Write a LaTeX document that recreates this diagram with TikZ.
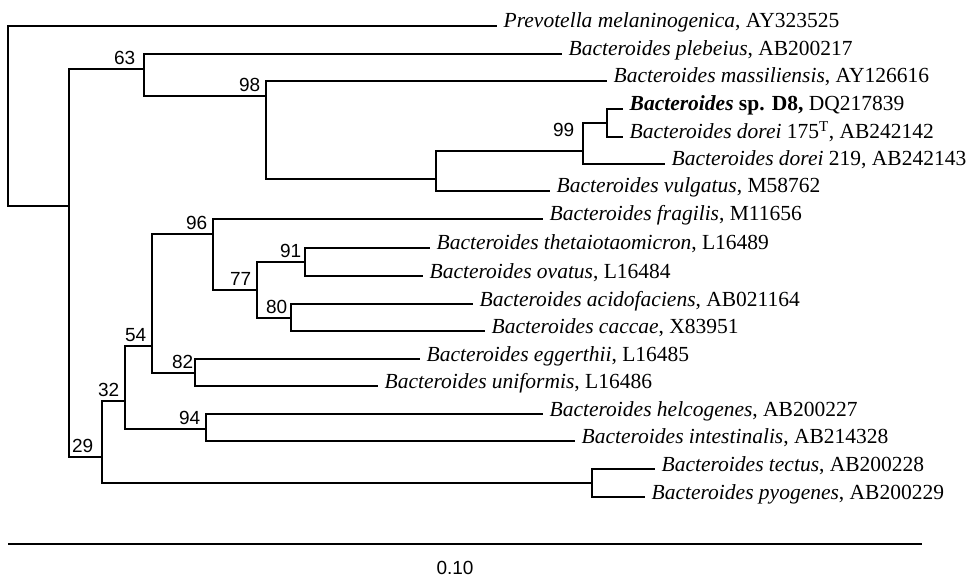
\documentclass[tikz,border=0pt]{standalone}
\usepackage{fontspec}
\setmainfont{Liberation Serif}
\setsansfont{Liberation Sans}

\begin{document}
\begin{tikzpicture}
    [x=1pt, y=-1pt,
    line width=1.4pt,
    taxon/.style={
      anchor=west,
      inner xsep=6pt,
      inner ysep=0pt,
      text height=10pt,
      text depth=6pt,
      font=\fontsize{21.5}{24}\selectfont},
    boot/.style={
      font=\sffamily\fontsize{19}{22}\selectfont,
      inner xsep=5pt,
      inner ysep=4pt}
    ]
    \useasboundingbox (0,0) rectangle (971,577);
    % inner nodes, placed where the parent branch meets them
    \coordinate (root) at (8,116);
    \coordinate (nA) at (69,206);
    \coordinate[label={[boot,inner xsep=8pt]above left:63}] (n63) at (144,69);
    \coordinate[label={[boot]above left:98}] (n98) at (266,96);
    \coordinate (nB) at (436,179);
    \coordinate[label={[boot,inner xsep=8pt,inner ysep=14pt]above left:99}] (n99) at (583,151);
    \coordinate (nC) at (607,123);
    \coordinate[label={[boot,inner xsep=8pt]above left:29}] (n29) at (102,457);
    \coordinate[label={[boot]above left:32}] (n32) at (125,401);
    \coordinate[label={[boot]above left:54}] (n54) at (152,346);
    \coordinate[label={[boot]above left:96}] (n96) at (213,234);
    \coordinate[label={[boot]above left:77}] (n77) at (257,290);
    \coordinate[label={[boot,inner xsep=3pt]above left:91}] (n91) at (305,262);
    \coordinate[label={[boot,inner xsep=3pt]above left:80}] (n80) at (291,318);
    \coordinate[label={[boot,inner xsep=1pt]above left:82}] (n82) at (195,373);
    \coordinate[label={[boot]above left:94}] (n94) at (206,429);
    \coordinate (nD) at (592,483);
    % taxa
    \node (prev) [taxon] at (497,26) {\textit{Prevotella melaninogenica}, AY323525};
    \node (pleb) [taxon] at (562,54) {\textit{Bacteroides plebeius}, AB200217};
    \node (mass) [taxon] at (607,81) {\textit{Bacteroides massiliensis}, AY126616};
    \node (d8) [taxon] at (623,109) {\textbf{\textit{Bacteroides} sp. D8,} DQ217839};
    \node (dor175) [taxon] at (623,137) {\textit{Bacteroides dorei} 175\textsuperscript{T}, AB242142};
    \node (dor219) [taxon] at (665,164) {\textit{Bacteroides dorei} 219, AB242143};
    \node (vulg) [taxon] at (550,191) {\textit{Bacteroides vulgatus}, M58762};
    \node (frag) [taxon] at (543,219) {\textit{Bacteroides fragilis}, M11656};
    \node (theta) [taxon] at (430,248) {\textit{Bacteroides thetaiotaomicron}, L16489};
    \node (ovat) [taxon] at (423,276) {\textit{Bacteroides ovatus}, L16484};
    \node (acid) [taxon] at (473,304) {\textit{Bacteroides acidofaciens}, AB021164};
    \node (cacc) [taxon] at (485,331) {\textit{Bacteroides caccae}, X83951};
    \node (egg) [taxon] at (420,359) {\textit{Bacteroides eggerthii}, L16485};
    \node (unif) [taxon] at (378,386) {\textit{Bacteroides uniformis}, L16486};
    \node (helc) [taxon] at (543,414) {\textit{Bacteroides helcogenes}, AB200227};
    \node (intes) [taxon] at (575,441) {\textit{Bacteroides intestinalis}, AB214328};
    \node (tect) [taxon] at (655,469) {\textit{Bacteroides tectus}, AB200228};
    \node (pyog) [taxon] at (645,497) {\textit{Bacteroides pyogenes}, AB200229};
    % branches
    \draw (root) |- (prev.west) (root) |- (nA);
    \draw (nA) |- (n63) (nA) |- (n29);
    \draw (n63) |- (pleb.west) (n63) |- (n98);
    \draw (n98) |- (mass.west) (n98) |- (nB);
    \draw (nB) |- (n99) (nB) |- (vulg.west);
    \draw (n99) |- (nC) (n99) |- (dor219.west);
    \draw (nC) |- (d8.west) (nC) |- (dor175.west);
    \draw (n29) |- (n32) (n29) |- (nD);
    \draw (n32) |- (n54) (n32) |- (n94);
    \draw (n54) |- (n96) (n54) |- (n82);
    \draw (n96) |- (frag.west) (n96) |- (n77);
    \draw (n77) |- (n91) (n77) |- (n80);
    \draw (n91) |- (theta.west) (n91) |- (ovat.west);
    \draw (n80) |- (acid.west) (n80) |- (cacc.west);
    \draw (n82) |- (egg.west) (n82) |- (unif.west);
    \draw (n94) |- (helc.west) (n94) |- (intes.west);
    \draw (nD) |- (tect.west) (nD) |- (pyog.west);
    % scale bar
    \coordinate (bar0) at (8,544);
    \coordinate (bar1) at (922,544);
    \draw[line width=1.2pt] (bar0) -- node[below, inner sep=0pt, yshift=-17pt, xshift=-10pt,
      font=\sffamily\fontsize{19}{22}\selectfont] {0.10} (bar1);
\end{tikzpicture}
\end{document}
